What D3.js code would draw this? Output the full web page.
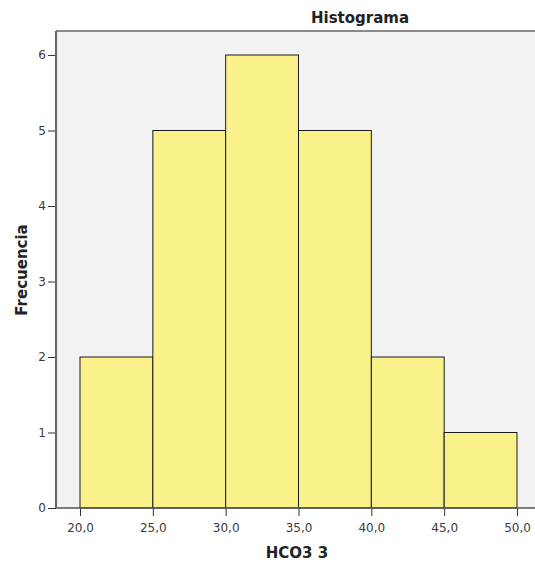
<!DOCTYPE html>
<html>
<head>
<meta charset="utf-8">
<script src="https://cdn.jsdelivr.net/npm/d3@7"></script>
<style>
  body { margin: 0; background: #fff; }
  svg text { font-family: "DejaVu Sans", sans-serif; fill: #222; }
</style>
</head>
<body>
<div class="visualization"></div>
<script>
// bin edges and counts
var binStarts = [20, 25, 30, 35, 40, 45];
var binWidth = 5;
var counts = [2, 5, 6, 5, 2, 1];
var xTicks = [20, 25, 30, 35, 40, 45, 50];
var yTicks = [0, 1, 2, 3, 4, 5, 6];

var width = 535;
var height = 566;
var plot = {left: 56, top: 31, right: 535, bottom: 508};

var svg = d3.select(".visualization").append("svg")
    .attr("width", width)
    .attr("height", height);

// plot background
svg.append("rect")
    .attr("x", plot.left).attr("y", plot.top)
    .attr("width", plot.right - plot.left)
    .attr("height", plot.bottom - plot.top)
    .attr("fill", "#f2f2f2");
svg.append("line")
    .attr("x1", plot.left).attr("x2", plot.right)
    .attr("y1", plot.top).attr("y2", plot.top)
    .attr("stroke", "#8a8a8a").attr("stroke-width", 2);

var xScale = d3.scaleLinear().domain([20, 50]).range([80, 517]);
var yScale = d3.scaleLinear().domain([0, 6]).range([plot.bottom, 55]);

// bars
svg.selectAll(".bar")
    .data(binStarts)
    .enter().append("rect")
    .attr("class", "bar")
    .attr("x", function(d){ return xScale(d); })
    .attr("y", function(d, i){ return yScale(counts[i]); })
    .attr("width", function(d){ return xScale(d + binWidth) - xScale(d); })
    .attr("height", function(d, i){ return yScale(0) - yScale(counts[i]); })
    .attr("fill", "#fbf18a")
    .attr("stroke", "#1a1a1a")
    .attr("stroke-width", 1);

// x axis
var xAxis = d3.axisBottom(xScale)
    .tickValues(xTicks)
    .tickSize(8)
    .tickFormat(function(d){ return d3.format(".1f")(d).replace(".", ","); });
var gx = svg.append("g")
    .attr("transform", "translate(0," + plot.bottom + ")")
    .call(xAxis);
gx.select(".domain").remove();
gx.append("line")
    .attr("x1", plot.left).attr("x2", plot.right)
    .attr("stroke", "#555").attr("stroke-width", 1.5);
gx.selectAll(".tick line").attr("stroke", "#333");
gx.selectAll(".tick text")
    .attr("dy", "1.05em")
    .style("font-size", "12px")
    .style("fill", "#3a3a3a");

// y axis
var yAxis = d3.axisLeft(yScale)
    .tickValues(yTicks)
    .tickSize(8)
    .tickFormat(d3.format("d"));
var gy = svg.append("g")
    .attr("transform", "translate(" + plot.left + ",0)")
    .call(yAxis);
gy.select(".domain").remove();
gy.append("line")
    .attr("y1", plot.top).attr("y2", plot.bottom)
    .attr("stroke", "#666").attr("stroke-width", 2);
gy.selectAll(".tick line").attr("stroke", "#333");
gy.selectAll(".tick text")
    .attr("x", -10)
    .style("font-size", "12px")
    .style("fill", "#3a3a3a");

// titles
svg.append("text")
    .attr("x", 360).attr("y", 23)
    .attr("text-anchor", "middle")
    .style("font-size", "15px").style("font-weight", "bold")
    .text("Histograma");

svg.append("text")
    .attr("x", 297).attr("y", 558)
    .attr("text-anchor", "middle")
    .style("font-size", "15px").style("font-weight", "bold")
    .text("HCO3 3");

svg.append("text")
    .attr("transform", "translate(27,270) rotate(-90)")
    .attr("text-anchor", "middle")
    .style("font-size", "15px").style("font-weight", "bold")
    .text("Frecuencia");
</script>
</body>
</html>
